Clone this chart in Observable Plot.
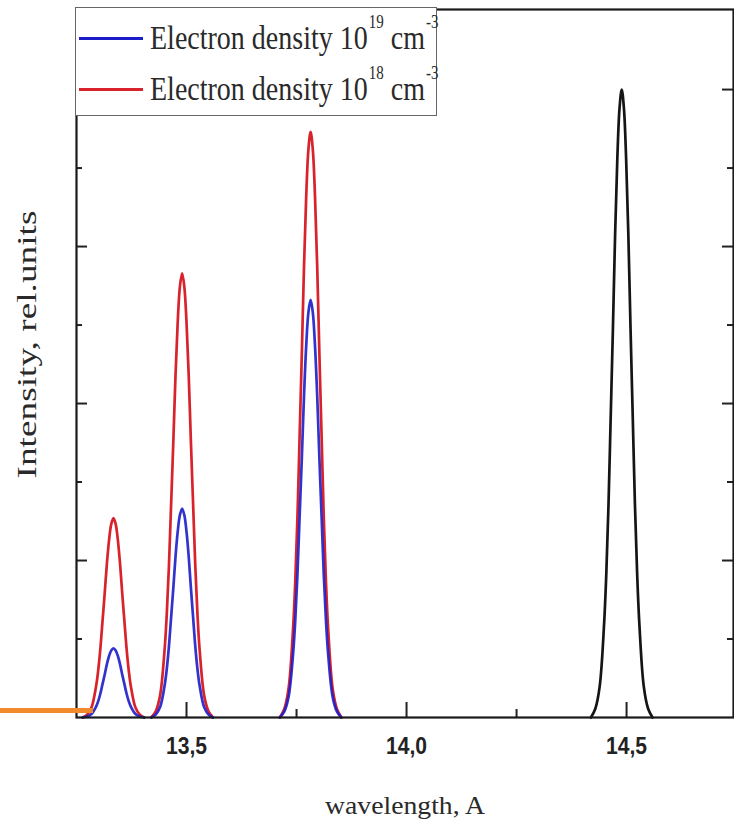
<!DOCTYPE html>
<html><head><meta charset="utf-8">
<script src="https://cdn.jsdelivr.net/npm/d3@7"></script>
<script src="https://cdn.jsdelivr.net/npm/@observablehq/plot@0.6"></script>
<style>
html,body{margin:0;padding:0;background:#fff;}
#wrap{position:relative;width:734px;height:825px;overflow:hidden;background:#fff;}
#legend{position:absolute;left:75px;top:7px;width:362px;height:109px;border:1.5px solid #666;background:#fff;box-sizing:border-box;font-family:"Liberation Serif","Times New Roman",serif;color:#2a2a2a;}
.row{position:absolute;left:0;height:40px;display:flex;align-items:center;}
.sw{width:64px;height:3px;margin-left:3px;margin-right:7px;flex:none;}
.lab{font-size:28px;white-space:nowrap;display:inline-block;transform:scaleY(1.22);transform-origin:50% 50%;}
.lab sup{font-size:15px;vertical-align:top;position:relative;top:-5px;margin-left:1px;}
#orange{position:absolute;left:0;top:708px;width:93px;height:5px;background:#f28a2b;}
</style></head><body><div id="wrap"></div>
<script>
// ---- data ----
const wavelengthTicks = [13.5, 14.0, 14.5];
const wavelengthMinorTicks = [13.75, 14.25];
const intensityTicks = [1, 2, 3, 4];
const intensityMinorTicks = [0.5, 1.5, 2.5, 3.5];
const seriesLabels = ["Electron density 10^19 cm^-3", "Electron density 10^18 cm^-3", "line 14.5 A"];
const seriesColors = ["#1c1cc8", "#d8232c", "#151515"];
const peakCenters = [13.334, 13.49, 13.782];
const peaksDensity19 = [0.44, 1.33, 2.66];
const peaksDensity18 = [1.27, 2.83, 3.73];
const blackPeakCenters = [14.489];
const blackPeakHeights = [4.0];
const profileOffset = [-0.07, -0.06, -0.05, -0.04, -0.035, -0.03, -0.025, -0.02, -0.015, -0.01, -0.005, 0, 0.005, 0.01, 0.015, 0.02, 0.025, 0.03, 0.035, 0.04, 0.05, 0.06, 0.07];
const profileLevel  = [0.0, 0.014, 0.05, 0.15, 0.23, 0.34, 0.48, 0.62, 0.77, 0.89, 0.97, 1.0, 0.97, 0.89, 0.77, 0.62, 0.48, 0.34, 0.23, 0.15, 0.05, 0.014, 0.0];

// ---- build table ----
function build(series, centers, heights) {
  const rows = [];
  centers.forEach((c, i) => {
    profileOffset.forEach((o, j) => rows.push({series, seg: series + i, x: c + o, y: heights[i] * profileLevel[j]}));
  });
  return rows;
}
const red = build(seriesLabels[1], peakCenters, peaksDensity18);
const blue = build(seriesLabels[0], peakCenters, peaksDensity19);
const black = build(seriesLabels[2], blackPeakCenters, blackPeakHeights);

const W = 734, H = 825, mL = 76, mR = 1, mT = 9, mB = 108;
const plotW = W - mL - mR, plotH = H - mT - mB;
const comma = d => d.toFixed(1).replace(".", ",");

const chart = Plot.plot({
  width: W, height: H,
  marginLeft: mL, marginRight: mR, marginTop: mT, marginBottom: mB,
  style: {background: "white", fontFamily: "'Liberation Serif', serif", overflow: "visible"},
  x: {domain: [13.25, 14.743]},
  y: {domain: [0, 4.51], axis: null},
  marks: [
    Plot.line(red, {x: "x", y: "y", z: "seg", stroke: seriesColors[1], strokeWidth: 2.7, curve: "catmull-rom"}),
    Plot.line(blue, {x: "x", y: "y", z: "seg", stroke: seriesColors[0], strokeWidth: 2.7, strokeOpacity: 0.9, curve: "catmull-rom"}),
    Plot.line(black, {x: "x", y: "y", z: "seg", stroke: seriesColors[2], strokeWidth: 2.7, curve: "catmull-rom"}),
    Plot.tickX(wavelengthTicks, {x: d => d, insetTop: plotH - 15, stroke: "#222", strokeWidth: 2}),
    Plot.tickX(wavelengthMinorTicks, {x: d => d, insetTop: plotH - 8, stroke: "#222", strokeWidth: 2}),
    Plot.tickY(intensityTicks, {y: d => d, insetRight: plotW - 11, stroke: "#222", strokeWidth: 2}),
    Plot.tickY(intensityMinorTicks, {y: d => d, insetRight: plotW - 6, stroke: "#222", strokeWidth: 2}),
    Plot.tickY(intensityTicks, {y: d => d, insetLeft: plotW - 11, stroke: "#222", strokeWidth: 2}),
    Plot.tickY(intensityMinorTicks, {y: d => d, insetLeft: plotW - 6, stroke: "#222", strokeWidth: 2}),
    Plot.frame({stroke: "#1a1a1a", strokeWidth: 2.2}),
    Plot.axisX(wavelengthTicks, {tickSize: 0, tickPadding: 20, tickFormat: comma, label: null,
      fontSize: 23, fontWeight: "bold", fontFamily: "'Liberation Sans Narrow','Arial Narrow','Liberation Sans',sans-serif", fill: "#222"}),
    Plot.text(["wavelength, A"], {text: d => d, frameAnchor: "bottom", textAnchor: "middle", dy: 96, fontSize: 26, fill: "#2a2a2a", fontFamily: "'Liberation Serif', serif"}),
    Plot.text(["Intensity, rel.units"], {text: d => d, frameAnchor: "left", textAnchor: "middle", rotate: -90, dx: -49, dy: -19, fontSize: 28, fill: "#2a2a2a", fontFamily: "'Liberation Serif', serif"})
  ]
});

// stretch texts to the reference lengths
chart.querySelectorAll("text").forEach(t => {
  const s = t.textContent;
  if (wavelengthTicks.map(comma).includes(s)) { t.setAttribute("textLength", 41); t.setAttribute("lengthAdjust", "spacingAndGlyphs"); }
  if (s === "Intensity, rel.units") { t.setAttribute("textLength", 268); t.setAttribute("lengthAdjust", "spacingAndGlyphs"); }
  if (s === "wavelength, A") { t.setAttribute("textLength", 160); t.setAttribute("lengthAdjust", "spacingAndGlyphs"); }
});

const wrap = document.getElementById("wrap");
wrap.appendChild(chart);

// legend
const legend = document.createElement("div");
legend.id = "legend";
const legendRows = [
  {color: seriesColors[0], exp: "19", top: 17},
  {color: seriesColors[1], exp: "18", top: 68}
];
legendRows.forEach(r => {
  const row = document.createElement("div");
  row.className = "row";
  row.style.top = (r.top - 7) + "px";
  const sw = document.createElement("div");
  sw.className = "sw"; sw.style.background = r.color;
  const lab = document.createElement("span");
  lab.className = "lab";
  lab.innerHTML = `Electron density 10<sup>${r.exp}</sup> cm<sup>-3</sup>`;
  row.appendChild(sw); row.appendChild(lab);
  legend.appendChild(row);
});
wrap.appendChild(legend);

const orange = document.createElement("div");
orange.id = "orange";
wrap.appendChild(orange);
</script>
</body></html>
